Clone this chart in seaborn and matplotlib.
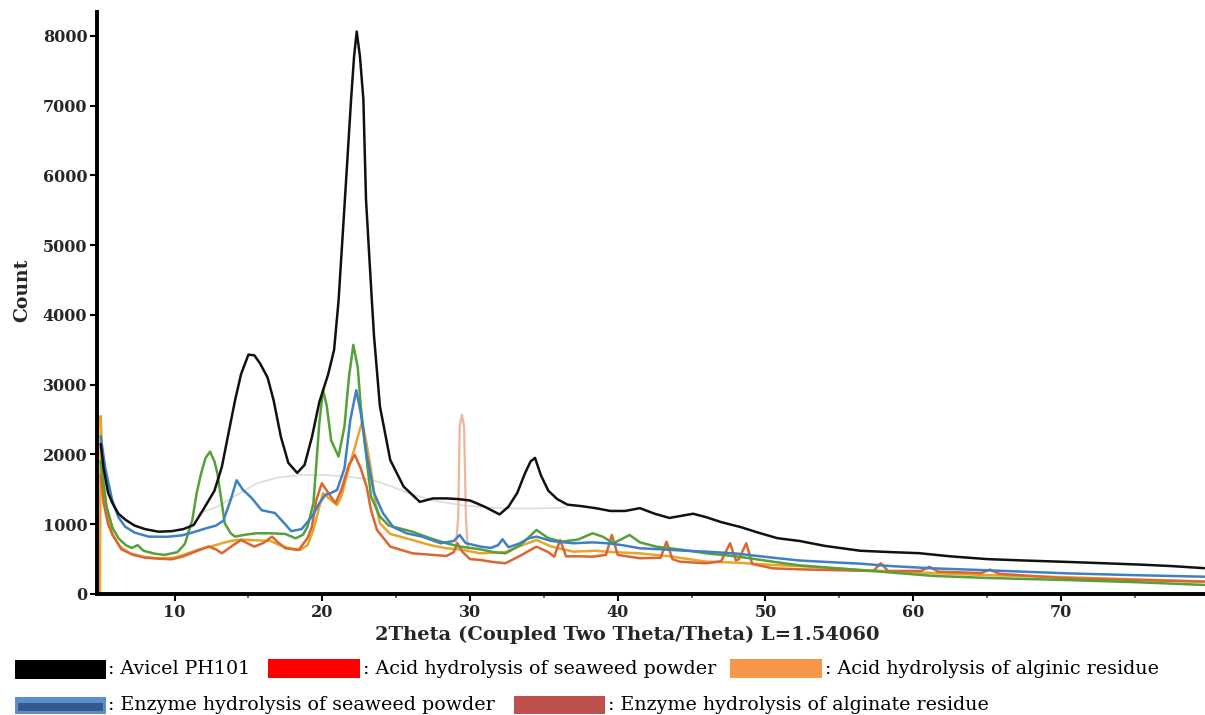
import numpy as np
import pandas as pd
import matplotlib
matplotlib.use("Agg")
import matplotlib.pyplot as plt
from matplotlib.patches import Rectangle
import seaborn as sns

# ---------------- data ----------------
avicel_x = [5.0, 5.2, 5.5, 5.8, 6.2, 6.7, 7.3, 8.0, 8.9, 9.8, 10.6, 11.3, 12.0, 12.7, 13.2, 13.6,
            14.1, 14.5, 15.0, 15.4, 15.8, 16.3, 16.7, 17.2, 17.7, 18.3, 18.8, 19.3, 19.8, 20.4,
            20.8, 21.1, 21.5, 21.95, 22.15, 22.33, 22.55, 22.78, 22.96, 23.35, 23.5, 23.9, 24.6,
            25.5, 26.6, 27.5, 28.4, 29.2, 30.0, 31.0, 32.0, 32.6, 33.2, 33.7, 34.1, 34.4, 34.8,
            35.3, 35.9, 36.6, 37.5, 38.5, 39.5, 40.5, 41.5, 42.5, 43.5, 44.3, 45.1, 46.0, 47.0,
            48.3, 49.5, 50.8, 52.3, 54.0, 56.4, 58.5, 60.4, 62.5, 65.0, 67.5, 70.4, 73.0, 75.5,
            77.5, 79.7]
avicel_y = [2150, 1800, 1450, 1300, 1150, 1060, 980, 930, 893, 900, 930, 990, 1230, 1480, 1820, 2250,
            2780, 3150, 3430, 3420, 3300, 3100, 2780, 2250, 1880, 1735, 1850, 2250, 2750, 3150,
            3500, 4200, 5550, 7090, 7700, 8060, 7700, 7090, 5650, 4220, 3700, 2690, 1920,
            1540, 1320, 1370, 1370, 1360, 1340, 1250, 1140, 1250, 1450, 1720, 1900, 1950, 1700,
            1480, 1360, 1280, 1260, 1230, 1190, 1190, 1230, 1150, 1090, 1120, 1150, 1100, 1030,
            960, 880, 800, 760, 690, 620, 600, 585, 540, 500, 480, 460, 440, 420,
            400, 370]

acid_seaweed_x = [5.0, 5.1, 5.4, 5.8, 6.2, 6.7, 7.1, 7.5, 7.9, 8.6, 9.3, 10.2, 10.7, 11.2, 11.5,
                  11.8, 12.1, 12.4, 12.7, 12.9, 13.2, 13.4, 13.8, 14.1, 14.8, 15.5, 16.5, 17.5,
                  18.2, 18.7, 19.0, 19.4, 19.6, 19.8, 20.05, 20.3, 20.6, 21.1, 21.5, 21.8, 22.1,
                  22.4, 22.6, 22.9, 23.3, 23.9, 24.5, 26.1, 27.3, 28.4, 29.3, 30.7, 31.6, 32.4,
                  33.4, 34.5, 35.3, 36.2, 37.3, 38.3, 39.0, 39.7, 40.2, 40.8, 41.5, 42.6, 44.5,
                  46.0, 48.0, 50.5, 52.3, 56.4, 61.3, 65.0, 70.4, 75.0, 79.7]
acid_seaweed_y = [1900, 1730, 1250, 950, 800, 700, 660, 700, 620, 580, 560, 600, 720, 1060, 1450,
                  1730, 1950, 2040, 1900, 1730, 1300, 1013, 870, 822, 850, 870, 870, 860,
                  798, 850, 965, 1300, 1874, 2450, 2925, 2700, 2200, 1970, 2400, 3100, 3570,
                  3250, 2700, 2110, 1395, 1110, 980, 893, 800, 727, 680, 640, 600, 583,
                  700, 918, 800, 750, 780, 870, 820, 727, 780, 846, 740, 679, 630,
                  583, 540, 463, 410, 344, 260, 230, 200, 170, 130]

acid_alginic_x = [4.95, 5.0, 5.15, 5.4, 5.8, 6.3, 7.0, 8.0, 9.0, 10.0, 11.0, 11.8, 12.6, 13.2, 13.8,
                  14.5, 15.5, 16.5, 17.1, 17.7, 18.5, 19.0, 19.4, 19.8, 20.05, 20.4, 21.0, 21.3,
                  21.7, 22.2, 22.7, 23.0, 23.3, 23.6, 23.9, 24.6, 26.1, 27.3, 28.4, 29.3, 30.7,
                  32.4, 33.3, 34.5, 35.5, 37.0, 38.5, 39.6, 41.5, 43.5, 46.0, 48.0, 50.5, 52.3,
                  56.4, 61.3, 65.0, 70.4, 75.0, 79.7]
acid_alginic_y = [0, 2550, 1700, 1150, 850, 680, 580, 530, 510, 520, 590, 650, 690, 727, 760,
                  780, 770, 760, 700, 660, 631, 700, 918, 1250, 1446, 1380, 1276, 1400,
                  1731, 2100, 2470, 2150, 1778, 1300, 1013, 860, 774, 700, 655, 640, 583,
                  600, 680, 774, 680, 607, 620, 600, 583, 540, 463, 450, 416, 400,
                  344, 300, 270, 240, 210, 180]

enz_seaweed_x = [5.0, 5.3, 5.77, 6.2, 6.65, 7.3, 8.25, 9.5, 10.5, 11.2, 12.1, 12.8, 13.3, 13.8, 14.2,
                 14.6, 15.2, 15.9, 16.8, 17.4, 17.9, 18.6, 19.3, 19.8, 20.2, 20.6, 21.0, 21.5,
                 21.9, 22.3, 22.6, 23.0, 23.5, 24.1, 24.8, 25.7, 26.8, 28.0, 28.9, 29.3, 29.7,
                 30.7, 31.4, 31.9, 32.2, 32.6, 33.3, 34.0, 34.5, 35.5, 37.0, 38.3, 39.3, 40.3,
                 41.5, 43.0, 44.5, 46.0, 48.0, 50.5, 52.3, 54.5, 56.4, 58.5, 61.3, 65.0, 70.4,
                 75.0, 79.7]
enz_seaweed_y = [2260, 1820, 1350, 1100, 965, 880, 822, 820, 840, 880, 940, 980, 1050, 1350, 1630,
                 1500, 1380, 1200, 1160, 1020, 900, 930, 1110, 1300, 1420, 1450, 1490, 1800,
                 2500, 2920, 2600, 2000, 1450, 1160, 960, 870, 820, 727, 760, 846, 730,
                 680, 660, 700, 784, 670, 720, 800, 822, 760, 727, 740, 727, 700,
                 655, 640, 620, 607, 580, 520, 480, 455, 435, 400, 368, 340, 296,
                 270, 248]

enz_alginate_x = [5.0, 5.2, 5.5, 5.8, 6.4, 7.2, 8.0, 9.0, 9.8, 10.6, 11.4, 12.3, 12.8, 13.2, 13.9,
                  14.5, 15.0, 15.4, 16.0, 16.6, 17.0, 17.5, 18.4, 19.0, 19.3, 19.6, 19.97, 20.4,
                  20.9, 21.3, 21.8, 22.2, 22.6, 23.0, 23.3, 23.7, 24.6, 26.1, 27.5, 28.4, 28.9,
                  29.15, 29.5, 30.0, 30.7, 31.5, 32.4, 33.5, 34.5, 35.3, 35.7, 36.1, 36.5, 37.5,
                  38.3, 39.2, 39.6, 40.0, 41.5, 42.9, 43.3, 43.7, 44.2, 46.0, 47.0, 47.6, 48.0,
                  48.2, 48.7, 49.1, 50.5, 52.3, 55.0, 57.3, 57.8, 58.3, 60.5, 61.1, 61.7, 64.6,
                  65.2, 65.8, 70.4, 75.0, 79.7]
enz_alginate_y = [1700, 1300, 1000, 850, 640, 560, 520, 505, 497, 540, 607, 679, 640, 583, 690,
                  774, 720, 679, 730, 822, 740, 655, 631, 800, 965, 1350, 1587, 1450,
                  1300, 1500, 1850, 1993, 1800, 1539, 1200, 918, 679, 583, 560, 545, 600,
                  727, 600, 500, 488, 460, 440, 560, 679, 600, 535, 774, 540, 540,
                  535, 560, 846, 560, 512, 520, 750, 500, 463, 440, 470, 727, 480,
                  500, 727, 430, 368, 354, 340, 330, 440, 330, 330, 390, 320, 300,
                  350, 290, 225, 200, 177]

spike_x = [29.05, 29.2, 29.3, 29.45, 29.6, 29.72, 29.85]
spike_y = [700, 1100, 2400, 2570, 2400, 1100, 650]

arc_x = [11.7, 12.9, 14.3, 15.6, 17.0, 18.5, 20.1, 21.8, 23.4, 24.7, 25.9, 27.5, 29.5, 31.5,
         33.5, 35.5, 36.5]
arc_y = [1160, 1250, 1430, 1587, 1670, 1705, 1706, 1680, 1634, 1540, 1440, 1340, 1270, 1235,
         1225, 1230, 1240]

y_ticks = [0, 1000, 2000, 3000, 4000, 5000, 6000, 7000, 8000]
x_ticks = [10, 20, 30, 40, 50, 60, 70]

legend_labels = [": Avicel PH101", ": Acid hydrolysis of seaweed powder",
                 ": Acid hydrolysis of alginic residue",
                 ": Enzyme hydrolysis of seaweed powder",
                 ": Enzyme hydrolysis of alginate residue"]

# ---------------- build long table ----------------
series = [
    ("background", arc_x, arc_y),
    ("spike", spike_x, spike_y),
    ("Acid hydrolysis of alginic residue", acid_alginic_x, acid_alginic_y),
    ("Enzyme hydrolysis of alginate residue", enz_alginate_x, enz_alginate_y),
    ("Acid hydrolysis of seaweed powder", acid_seaweed_x, acid_seaweed_y),
    ("Enzyme hydrolysis of seaweed powder", enz_seaweed_x, enz_seaweed_y),
    ("Avicel PH101", avicel_x, avicel_y),
]
frames = [pd.DataFrame({"theta": x, "count": y, "sample": name}) for name, x, y in series]
df = pd.concat(frames, ignore_index=True)

palette = {
    "background": "#DCDCDC",
    "spike": "#EDB79E",
    "Acid hydrolysis of alginic residue": "#E8A52A",
    "Enzyme hydrolysis of alginate residue": "#DA6630",
    "Acid hydrolysis of seaweed powder": "#56A03A",
    "Enzyme hydrolysis of seaweed powder": "#3F80C4",
    "Avicel PH101": "#111111",
}
widths = {"background": 1.2, "spike": 1.6}

sns.set_theme(style="white")
plt.rcParams["font.family"] = ["DejaVu Serif"]

fig = plt.figure(figsize=(12.05, 7.15), dpi=100)
ax = fig.add_axes([97 / 1205, 1 - 594 / 715, 1 - 97 / 1205, (594 - 12) / 715])

for name, _, _ in series:
    sub = df[df["sample"] == name]
    sns.lineplot(data=sub, x="theta", y="count", color=palette[name],
                 linewidth=widths.get(name, 1.8), estimator=None, sort=True,
                 legend=False, ax=ax)

ax.set_xlim(4.75, 79.75)
ax.set_ylim(0, 8340)
ax.set_xticks(x_ticks)
ax.set_xticks([15, 25, 35, 45, 55, 65, 75], minor=True)
ax.set_yticks(y_ticks)
ax.set_yticklabels([str(v) for v in y_ticks], fontweight="bold", fontsize=11.5)
ax.set_xticklabels([str(v) for v in x_ticks], fontweight="bold", fontsize=11.5)
ax.tick_params(axis="both", which="major", direction="out", length=5, width=1.5,
               color="black", pad=2, bottom=True, left=True)
ax.tick_params(axis="x", which="minor", direction="out", length=3, width=1.2,
               color="#555555", bottom=True)
for s in ["top", "right"]:
    ax.spines[s].set_visible(False)
for s in ["left", "bottom"]:
    ax.spines[s].set_color("black")
    ax.spines[s].set_linewidth(2.8)

ax.set_xlabel("2Theta (Coupled Two Theta/Theta) L=1.54060", fontweight="bold", fontsize=14)
ax.set_ylabel("Count", fontweight="bold", fontsize=13.5)
ax.xaxis.set_label_coords((627 - 97) / (1205 - 97), -(626 - 594) / (594 - 12))
ax.yaxis.set_label_coords(-(97 - 31) / (1205 - 97), (594 - 290) / (594 - 12))

# ---------------- custom legend ----------------
def px_rect(x0, y0, x1, y1, color):
    fig.add_artist(Rectangle((x0 / 1205, 1 - y1 / 715), (x1 - x0) / 1205, (y1 - y0) / 715,
                             transform=fig.transFigure, facecolor=color, edgecolor="none"))

def px_text(x, y, s):
    fig.text(x / 1205, 1 - y / 715, s, ha="left", va="center", fontsize=13.7,
             family=["DejaVu Serif"], color="black")

px_rect(15, 660, 106, 679, "#000000")
px_text(108, 669, legend_labels[0])
px_rect(268, 659, 360, 678, "#FF0000")
px_text(363, 669, legend_labels[1])
px_rect(730, 659, 822, 678, "#F79646")
px_text(825, 669, legend_labels[2])
px_rect(15, 697, 106, 714, "#5B8FCB")
px_rect(18, 703, 103, 711, "#34598A")
px_text(108, 705, legend_labels[3])
px_rect(514, 696, 605, 714, "#C0504D")
px_text(608, 705, legend_labels[4])

fig.savefig("out.png", dpi=100)
